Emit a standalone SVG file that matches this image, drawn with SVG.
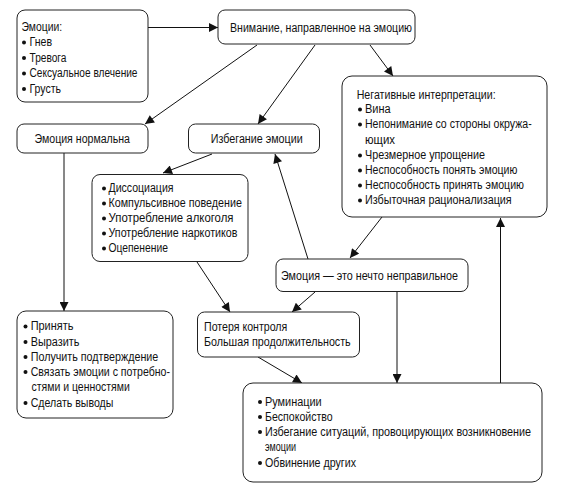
<svg xmlns="http://www.w3.org/2000/svg" width="565" height="494" viewBox="0 0 565 494">
<style>
.box{fill:#fff;stroke:#222;stroke-width:1}
.t{font-family:"Liberation Sans",Arial,sans-serif;font-size:12px;fill:#111}
.c{stroke:#111;stroke-width:1;fill:none;marker-end:url(#ah)}
.b{fill:#111}
</style>
<defs>
<marker id="ah" viewBox="0 0 10 10" refX="10" refY="5" markerWidth="11" markerHeight="9" markerUnits="userSpaceOnUse" orient="auto">
<path d="M0,0 L10,5 L0,10 Z" fill="#111"/>
</marker>
</defs>
<rect width="565" height="494" fill="#fff"/>
<g id="connectors">
<line class="c" x1="148" y1="27.5" x2="218" y2="27.5"/>
<line class="c" x1="257" y1="45" x2="145" y2="124"/>
<line class="c" x1="315" y1="45" x2="258" y2="124"/>
<line class="c" x1="370" y1="45" x2="393" y2="76"/>
<line class="c" x1="212" y1="154" x2="163" y2="173"/>
<line class="c" x1="308" y1="259" x2="275" y2="154"/>
<line class="c" x1="382" y1="217" x2="350" y2="258"/>
<line class="c" x1="64" y1="153" x2="64" y2="311"/>
<line class="c" x1="197" y1="262" x2="230" y2="312"/>
<line class="c" x1="315" y1="292" x2="292" y2="312"/>
<line class="c" x1="397" y1="292" x2="397" y2="383"/>
<line class="c" x1="258" y1="357" x2="302" y2="383"/>
<line class="c" x1="500.5" y1="383" x2="500.5" y2="218"/>
</g>
<g id="emotions">
<rect class="box" x="17" y="10" width="131" height="92" rx="8"/>
<text class="t" x="21.5" y="30.5" textLength="40.6" lengthAdjust="spacingAndGlyphs">Эмоции:</text>
<circle class="b" cx="24" cy="42.5" r="2"/><text class="t" x="29.5" y="46" textLength="22.5" lengthAdjust="spacingAndGlyphs">Гнев</text>
<circle class="b" cx="24" cy="58" r="2"/><text class="t" x="29.5" y="61.5" textLength="37" lengthAdjust="spacingAndGlyphs">Тревога</text>
<circle class="b" cx="24" cy="73.5" r="2"/><text class="t" x="29.5" y="77" textLength="108" lengthAdjust="spacingAndGlyphs">Сексуальное влечение</text>
<circle class="b" cx="24" cy="89" r="2"/><text class="t" x="29.5" y="92.5" textLength="31.5" lengthAdjust="spacingAndGlyphs">Грусть</text>
</g>
<g id="attention">
<rect class="box" x="218" y="10" width="197" height="34" rx="7"/>
<text class="t" x="230" y="31.5" textLength="182" lengthAdjust="spacingAndGlyphs">Внимание, направленное на эмоцию</text>
</g>
<g id="normal">
<rect class="box" x="17" y="124" width="131" height="29" rx="7"/>
<text class="t" x="34.5" y="143" textLength="95.5" lengthAdjust="spacingAndGlyphs">Эмоция нормальна</text>
</g>
<g id="avoidance">
<rect class="box" x="188.5" y="124" width="131" height="29" rx="7"/>
<text class="t" x="210.7" y="143" textLength="92" lengthAdjust="spacingAndGlyphs">Избегание эмоции</text>
</g>
<g id="negative">
<rect class="box" x="342" y="76" width="205" height="141" rx="10"/>
<text class="t" x="356.7" y="98.5" textLength="139" lengthAdjust="spacingAndGlyphs">Негативные интерпретации:</text>
<circle class="b" cx="360" cy="109.5" r="2"/><text class="t" x="365" y="113" textLength="25.7" lengthAdjust="spacingAndGlyphs">Вина</text>
<circle class="b" cx="360" cy="124.5" r="2"/><text class="t" x="365" y="128" textLength="166.7" lengthAdjust="spacingAndGlyphs">Непонимание со стороны окружа-</text>
<text class="t" x="365" y="143.5" textLength="30" lengthAdjust="spacingAndGlyphs">ющих</text>
<circle class="b" cx="360" cy="155.5" r="2"/><text class="t" x="365" y="159" textLength="120" lengthAdjust="spacingAndGlyphs">Чрезмерное упрощение</text>
<circle class="b" cx="360" cy="170.5" r="2"/><text class="t" x="365" y="174" textLength="152.3" lengthAdjust="spacingAndGlyphs">Неспособность понять эмоцию</text>
<circle class="b" cx="360" cy="185.5" r="2"/><text class="t" x="365" y="189" textLength="159" lengthAdjust="spacingAndGlyphs">Неспособность принять эмоцию</text>
<circle class="b" cx="360" cy="200.5" r="2"/><text class="t" x="365" y="204" textLength="146.7" lengthAdjust="spacingAndGlyphs">Избыточная рационализация</text>
</g>
<g id="avoid-list">
<rect class="box" x="92" y="174.5" width="156" height="87" rx="8"/>
<circle class="b" cx="104" cy="188.5" r="2"/><text class="t" x="108.5" y="192" textLength="65" lengthAdjust="spacingAndGlyphs">Диссоциация</text>
<circle class="b" cx="104" cy="203.5" r="2"/><text class="t" x="108.5" y="207" textLength="133.4" lengthAdjust="spacingAndGlyphs">Компульсивное поведение</text>
<circle class="b" cx="104" cy="218.5" r="2"/><text class="t" x="108.5" y="222" textLength="125" lengthAdjust="spacingAndGlyphs">Употребление алкоголя</text>
<circle class="b" cx="104" cy="233.5" r="2"/><text class="t" x="108.5" y="237" textLength="129" lengthAdjust="spacingAndGlyphs">Употребление наркотиков</text>
<circle class="b" cx="104" cy="248.5" r="2"/><text class="t" x="108.5" y="252" textLength="59.4" lengthAdjust="spacingAndGlyphs">Оцепенение</text>
</g>
<g id="wrong">
<rect class="box" x="276" y="259" width="192" height="32.5" rx="7"/>
<text class="t" x="281" y="279.5" textLength="177" lengthAdjust="spacingAndGlyphs">Эмоция — это нечто неправильное</text>
</g>
<g id="loss">
<rect class="box" x="197.5" y="312" width="162" height="45" rx="7"/>
<text class="t" x="204" y="331" textLength="83.3" lengthAdjust="spacingAndGlyphs">Потеря контроля</text>
<text class="t" x="204" y="346" textLength="146.7" lengthAdjust="spacingAndGlyphs">Большая продолжительность</text>
</g>
<g id="accept">
<rect class="box" x="17" y="311" width="156" height="107" rx="9"/>
<circle class="b" cx="25.5" cy="326.5" r="2"/><text class="t" x="30.7" y="330" textLength="42.7" lengthAdjust="spacingAndGlyphs">Принять</text>
<circle class="b" cx="25.5" cy="342" r="2"/><text class="t" x="30.7" y="345.5" textLength="48.7" lengthAdjust="spacingAndGlyphs">Выразить</text>
<circle class="b" cx="25.5" cy="357" r="2"/><text class="t" x="30.7" y="360.5" textLength="127.6" lengthAdjust="spacingAndGlyphs">Получить подтверждение</text>
<circle class="b" cx="25.5" cy="372" r="2"/><text class="t" x="30.7" y="375.5" textLength="139.3" lengthAdjust="spacingAndGlyphs">Связать эмоции с потребно-</text>
<text class="t" x="31.5" y="391" textLength="98.3" lengthAdjust="spacingAndGlyphs">стями и ценностями</text>
<circle class="b" cx="25.5" cy="403" r="2"/><text class="t" x="30.7" y="406.5" textLength="82.7" lengthAdjust="spacingAndGlyphs">Сделать выводы</text>
</g>
<g id="rumination">
<rect class="box" x="243" y="383" width="299" height="99" rx="10"/>
<circle class="b" cx="260" cy="402" r="2"/><text class="t" x="265" y="405.5" textLength="56.7" lengthAdjust="spacingAndGlyphs">Руминации</text>
<circle class="b" cx="260" cy="417" r="2"/><text class="t" x="265" y="420.5" textLength="67.7" lengthAdjust="spacingAndGlyphs">Беспокойство</text>
<circle class="b" cx="260" cy="432" r="2"/><text class="t" x="265" y="435.5" textLength="266" lengthAdjust="spacingAndGlyphs">Избегание ситуаций, провоцирующих возникновение</text>
<text class="t" x="265" y="450.5" textLength="31" lengthAdjust="spacingAndGlyphs">эмоции</text>
<circle class="b" cx="260" cy="463" r="2"/><text class="t" x="265" y="466.5" textLength="91" lengthAdjust="spacingAndGlyphs">Обвинение других</text>
</g>
</svg>
